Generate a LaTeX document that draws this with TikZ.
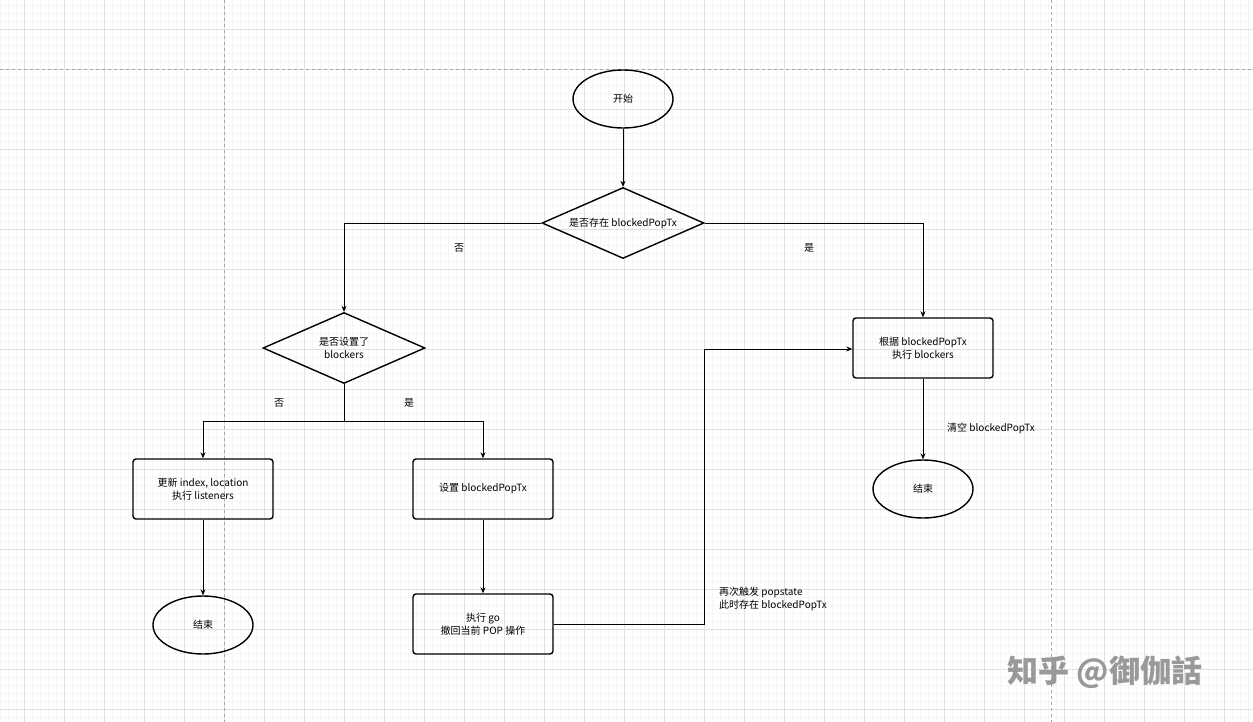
\documentclass[tikz,border=0pt]{standalone}
\usepackage{fontspec}
\setmainfont{Noto Sans CJK SC}
\usetikzlibrary{shapes.geometric,arrows.meta}
\begin{document}
\begin{tikzpicture}[x=1pt,y=-1pt,
  every node/.style={font=\fontsize{10}{13}\selectfont},
  term/.style={ellipse,draw,line width=1.4pt,minimum width=100pt,minimum height=58pt,inner sep=0pt},
  dec/.style={diamond,draw,line width=1.4pt,minimum width=162pt,minimum height=71pt,inner sep=0pt,aspect=2.3,align=center},
  proc/.style={rectangle,rounded corners=3pt,draw,line width=1.4pt,minimum width=140pt,minimum height=60pt,align=center},
  conn/.style={draw,line width=0.7pt,-{Stealth[length=6pt,width=5pt]}},
  lab/.style={inner sep=1pt}]
\useasboundingbox (0,0) rectangle (1253,722);
\fill[white] (0,0) rectangle (1253,722);
\foreach \x in {0,8,...,1253} \draw[black!4,line width=0.4pt] (\x,0) -- (\x,722);
\foreach \y in {5,13,...,722} \draw[black!4,line width=0.4pt] (0,\y) -- (1253,\y);
\foreach \x in {24,64,...,1253} \draw[black!12,line width=0.5pt] (\x,0) -- (\x,722);
\foreach \y in {29,69,...,722} \draw[black!12,line width=0.5pt] (0,\y) -- (1253,\y);
\draw[black!35,dashed,line width=0.5pt] (0,69) -- (1253,69);
\draw[black!35,dashed,line width=0.5pt] (224,0) -- (224,722);
\draw[black!35,dashed,line width=0.5pt] (1051,0) -- (1051,722);

\node[term] (start) at (623,99) {开始};
\node[dec] (d1) at (623,223) {是否存在 blockedPopTx};
\node[dec] (d2) at (344,348) {是否设置了\\blockers};
\node[proc] (br) at (923,348) {根据 blockedPopTx\\执行 blockers};
\node[proc] (l1) at (203,489) {更新 index, location\\执行 listeners};
\node[proc] (l2) at (483,489) {设置 blockedPopTx};
\node[proc] (l3) at (483,624) {执行 go\\撤回当前 POP 操作};
\node[term] (e1) at (203,625) {结束};
\node[term] (e2) at (923,489) {结束};
\coordinate (split) at (344,421);
\coordinate (c1) at (704,624);
\coordinate (c2) at (704,349);

\draw[conn] (start) -- (d1);
\draw[conn] (d1.west) -| (d2.north);
\draw[conn] (d1.east) -| (br.north);
\draw[line width=0.7pt] (d2.south) -- (split);
\draw[conn] (split) -| (l1.north);
\draw[conn] (split) -| (l2.north);
\draw[conn] (l1) -- (e1);
\draw[conn] (l2) -- (l3);
\draw[conn] (l3.east) -- (c1) -- (c2) -- (br.west|-c2);
\draw[conn] (br) -- (e2);

\node[lab] (n1) at (459,248) {否};
\node[lab] (n2) at (809,248) {是};
\node[lab] (n3) at (279,403) {否};
\node[lab] (n4) at (409,403) {是};
\node[lab,anchor=west] (n5) at (946,428) {清空 blockedPopTx};
\node[lab,align=left,anchor=west] (n6) at (718,599) {再次触发 popstate\\此时存在 blockedPopTx};
\node[text=black!40,font=\fontsize{31}{33}\selectfont\bfseries] (wm) at (1105,672) {知乎 @御伽話};
\end{tikzpicture}
\end{document}
